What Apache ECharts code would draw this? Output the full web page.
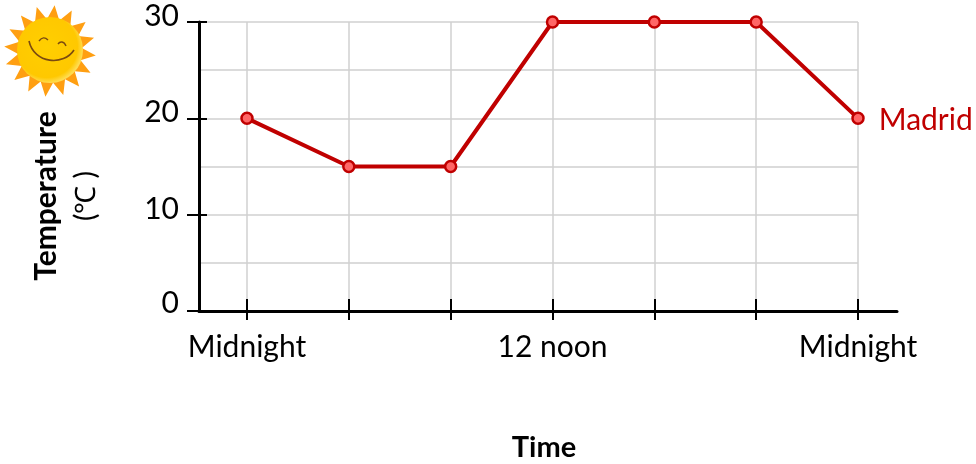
<!DOCTYPE html>
<html>
<head>
<meta charset="utf-8">
<style>
html, body { margin: 0; padding: 0; background: #fff; }
#chart { width: 976px; height: 464px; }
</style>
<script src="https://cdn.jsdelivr.net/npm/echarts@6/dist/echarts.min.js"></script>
</head>
<body>
<div id="chart"></div>
<script>
// hours after midnight
var hours = [0, 4, 8, 12, 16, 20, 24];
var temperature = [20, 15, 15, 30, 30, 30, 20];
var labelHours = [0, 12, 24];
var labelText = { 0: "Midnight", 12: "12 noon", 24: "Midnight" };
var seriesName = "Madrid";

var FONT = "Lato";
var RED = "#c00000";
var GRID_GRAY = "#d0d0d0";

var myChart = echarts.init(document.getElementById("chart"));

// sun rays, decoration only
function sunRays(cx, cy, outer, inner, count) {
	var pts = [];
	for (var i = 0; i < count * 2; i++) {
		var r = i % 2 ? inner : outer;
		var a = Math.PI * i / count + 0.1;
		pts.push([cx + r * Math.cos(a), cy + r * Math.sin(a)]);
	}
	return pts;
}

// the y labels do not sit quite level with their ticks in the original
function yLabelStyle(bottom) {
	return { fontFamily: FONT, fontSize: 30, color: "#000", padding: [0, 0, bottom, 0] };
}

var xMin = -1.885; // axis starts left of the first midnight

var option = {
	animation: false,
	backgroundColor: "#fff",
	grid: [
		{ left: 199, top: 22, width: 659, height: 289 },
		{ left: 199, top: 22, width: 698, height: 289 }
	],
	xAxis: [
		{
			type: "value", gridIndex: 0, min: xMin, max: 24,
			axisLine: { show: false },
			axisLabel: { show: false },
			axisTick: { show: true, inside: true, length: 12, customValues: hours, lineStyle: { color: "#000", width: 2 } },
			splitLine: { show: true, lineStyle: { color: GRID_GRAY, width: 1.5 } }
		},
		{
			type: "value", gridIndex: 1, min: xMin, max: 25.53,
			axisLine: { show: true, onZero: false, lineStyle: { color: "#000", width: 3 } },
			axisTick: { show: true, length: 9, customValues: hours, lineStyle: { color: "#000", width: 2 } },
			axisLabel: {
				show: true, customValues: labelHours, margin: 21, hideOverlap: false,
				color: "#000", fontFamily: FONT, fontSize: 30,
				formatter: function (v) { return labelText[v]; }
			},
			splitLine: { show: false }
		}
	],
	yAxis: [
		{
			type: "value", gridIndex: 0, min: 0, max: 30, interval: 10,
			axisLine: { show: true, onZero: false, lineStyle: { color: "#000", width: 3 } },
			axisTick: { show: true, length: 12, lineStyle: { color: "#000", width: 2 } },
			axisLabel: {
				margin: 20,
				formatter: function (v) { return "{t" + v + "|" + v + "}"; },
				rich: { t0: yLabelStyle(16), t10: yLabelStyle(10), t20: yLabelStyle(12), t30: yLabelStyle(12) }
			},
			splitLine: { show: true, lineStyle: { color: GRID_GRAY, width: 1.5 } },
			minorTick: { show: false, splitNumber: 2 },
			minorSplitLine: { show: true, lineStyle: { color: GRID_GRAY, width: 1.5 } }
		},
		{
			type: "value", gridIndex: 1, min: 0, max: 30, interval: 10,
			axisLine: { show: false, onZero: false },
			axisLabel: { show: false },
			axisTick: { show: true, inside: true, length: 8, lineStyle: { color: "#000", width: 2 } },
			splitLine: { show: false }
		}
	],
	series: [{
		name: seriesName,
		type: "line",
		xAxisIndex: 0,
		yAxisIndex: 0,
		clip: false,
		z: 5,
		data: hours.map(function (h, i) { return [h, temperature[i]]; }),
		symbol: "circle",
		symbolSize: 11,
		lineStyle: { color: RED, width: 4 },
		itemStyle: { color: "#ff6666", borderColor: RED, borderWidth: 2.5 },
		label: {
			show: true, position: "right", distance: 14, offset: [0, 2], color: RED, fontFamily: FONT, fontSize: 30,
			formatter: function (p) { return p.dataIndex === hours.length - 1 ? seriesName : ""; }
		}
	}],
	graphic: [
		{
			type: "text", x: 46, y: 196, rotation: Math.PI / 2,
			style: { text: "Temperature", fontFamily: FONT, fontSize: 30, fontWeight: "bold", fill: "#000", align: "center", verticalAlign: "middle" }
		},
		{
			type: "text", x: 86, y: 196, rotation: Math.PI / 2,
			style: { text: "(℃ )", fontFamily: FONT, fontSize: 28, fill: "#000", align: "center", verticalAlign: "middle" }
		},
		{
			type: "text", x: 544, y: 448,
			style: { text: "Time", fontFamily: FONT, fontSize: 29, fontWeight: "bold", fill: "#000", align: "center", verticalAlign: "middle" }
		},
		// sun
		{
			type: "polygon", shape: { points: sunRays(50, 51, 46, 32, 16) },
			style: { fill: "#ff9f12" }
		},
		{
			type: "circle", shape: { cx: 50, cy: 50, r: 33 },
			style: {
				fill: new echarts.graphic.RadialGradient(0.45, 0.45, 0.55, [
					{ offset: 0, color: "#ffcf00" }, { offset: 0.85, color: "#ffc800" }, { offset: 1, color: "#ffdc50" }
				])
			}
		},
		{
			type: "bezierCurve", shape: { x1: 29, y1: 41, cpx1: 34, cpy1: 64, cpx2: 64, cpy2: 66, x2: 74, y2: 50 },
			style: { fill: null, stroke: "#7a4a10", lineWidth: 1.6 }
		},
		{
			type: "bezierCurve", shape: { x1: 39, y1: 41, cpx1: 42, cpy1: 37, cpx2: 45, cpy2: 37, x2: 48, y2: 40 },
			style: { fill: null, stroke: "#7a4a10", lineWidth: 1.4 }
		},
		{
			type: "bezierCurve", shape: { x1: 58, y1: 44, cpx1: 60, cpy1: 41, cpx2: 64, cpy2: 41, x2: 66, y2: 46 },
			style: { fill: null, stroke: "#7a4a10", lineWidth: 1.4 }
		}
	]
};
myChart.setOption(option);
</script>
</body>
</html>
